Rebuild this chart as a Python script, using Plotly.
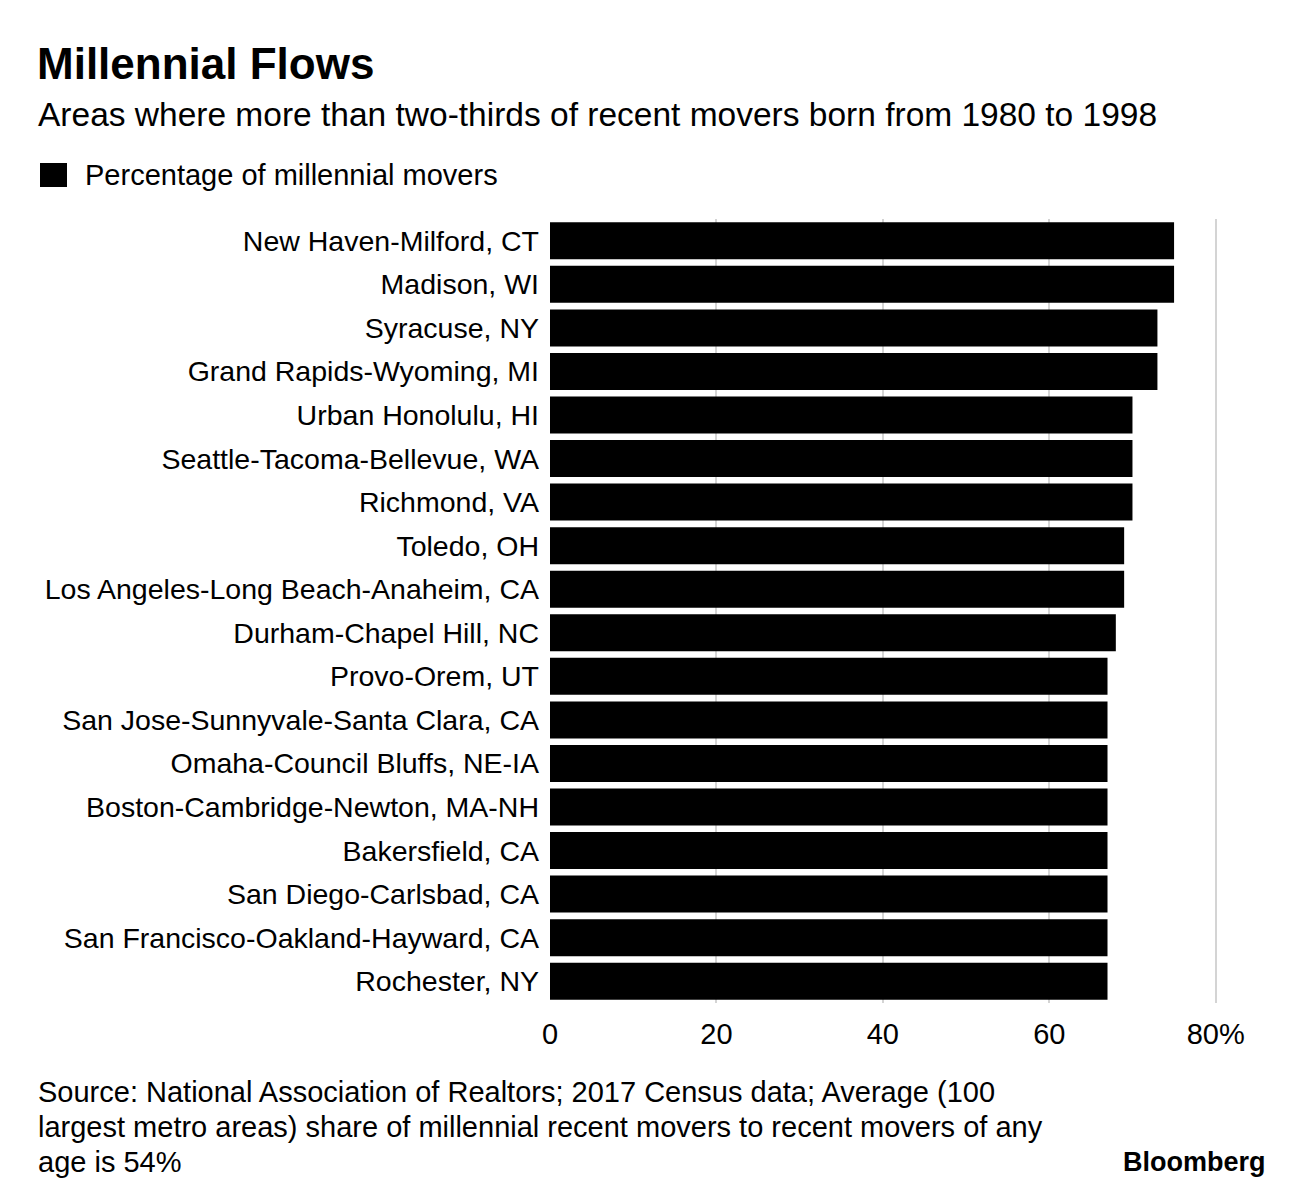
import plotly.graph_objects as go

categories = [
    "New Haven-Milford, CT",
    "Madison, WI",
    "Syracuse, NY",
    "Grand Rapids-Wyoming, MI",
    "Urban Honolulu, HI",
    "Seattle-Tacoma-Bellevue, WA",
    "Richmond, VA",
    "Toledo, OH",
    "Los Angeles-Long Beach-Anaheim, CA",
    "Durham-Chapel Hill, NC",
    "Provo-Orem, UT",
    "San Jose-Sunnyvale-Santa Clara, CA",
    "Omaha-Council Bluffs, NE-IA",
    "Boston-Cambridge-Newton, MA-NH",
    "Bakersfield, CA",
    "San Diego-Carlsbad, CA",
    "San Francisco-Oakland-Hayward, CA",
    "Rochester, NY",
]
values = [75, 75, 73, 73, 70, 70, 70, 69, 69, 68, 67, 67, 67, 67, 67, 67, 67, 67]
tick_vals = [0, 20, 40, 60, 80]
tick_text = ["0", "20", "40", "60", "80%"]
source_lines = [
    "Source: National Association of Realtors; 2017 Census data; Average (100",
    "largest metro areas) share of millennial recent movers to recent movers of any",
    "age is 54%",
]

OFF = 8  # page body margin
W, H = 1296, 1192
X_MAX = 81
ML = 550 - OFF
PW = round((1216 - 550) * X_MAX / 80)
MR = W - ML - PW
MT, MB = 219 - OFF, H - (1003 - OFF)
PH = H - MT - MB
FONT = "Liberation Sans, Arial, sans-serif"


def px(x):
    return (x - OFF - ML) / PW


def py(y):
    return (H - MB - (y - OFF)) / PH


fig = go.Figure(
    go.Bar(
        x=values,
        y=categories,
        orientation="h",
        marker=dict(color="#000000", line=dict(width=0)),
        name="Percentage of millennial movers",
        showlegend=False,
        hovertemplate="%{y}: %{x}%<extra></extra>",
    )
)

fig.update_layout(
    width=W,
    height=H,
    margin=dict(l=ML, r=MR, t=MT, b=MB, autoexpand=False),
    paper_bgcolor="white",
    plot_bgcolor="white",
    bargap=0.15,
    font=dict(family=FONT, color="#000000", size=28),
    title=dict(
        text="<b>Millennial Flows</b>",
        font=dict(family=FONT, size=44, color="#000000"),
        x=(37 - OFF) / W,
        xanchor="left",
        xref="container",
        y=1 - (64 - OFF) / H,
        yanchor="middle",
        yref="container",
    ),
    xaxis=dict(
        range=[0, X_MAX],
        tickvals=tick_vals,
        ticktext=tick_text,
        showgrid=True,
        gridcolor="#d4d4d4",
        gridwidth=2,
        zeroline=False,
        showline=False,
        ticks="",
        tickfont=dict(size=29),
        ticklabelstandoff=11,
    ),
    yaxis=dict(
        autorange="reversed",
        showgrid=False,
        zeroline=False,
        showline=False,
        ticks="",
        tickfont=dict(size=28.5),
        ticklabelstandoff=10,
    ),
)

# Legend swatch + label
fig.add_shape(
    type="rect",
    xref="paper",
    yref="paper",
    x0=px(40),
    x1=px(67),
    y0=py(187),
    y1=py(163),
    fillcolor="#000000",
    line=dict(width=0),
)

annotations = [
    dict(
        text="Areas where more than two-thirds of recent movers born from 1980 to 1998",
        x=px(36), y=py(115), size=33.5,
    ),
    dict(text="Percentage of millennial movers", x=px(83), y=py(175), size=29),
]
for i, line in enumerate(source_lines):
    annotations.append(dict(text=line, x=px(36), y=py(1092 + 35 * i), size=29))

for a in annotations:
    fig.add_annotation(
        text=a["text"],
        x=a["x"],
        y=a["y"],
        xref="paper",
        yref="paper",
        xanchor="left",
        yanchor="middle",
        align="left",
        showarrow=False,
        font=dict(family=FONT, size=a["size"], color="#000000"),
    )

fig.add_annotation(
    text="<b>Bloomberg</b>",
    x=px(1268),
    y=py(1162),
    xref="paper",
    yref="paper",
    xanchor="right",
    yanchor="middle",
    showarrow=False,
    font=dict(family=FONT, size=27, color="#000000"),
)

fig.write_html("out.html")
